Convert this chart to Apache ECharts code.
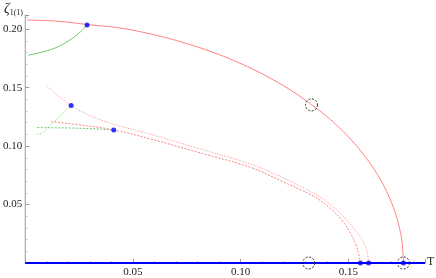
<!DOCTYPE html>
<html><head><meta charset="utf-8">
<script src="https://cdn.jsdelivr.net/npm/echarts@6/dist/echarts.min.js"></script>
<style>html,body{margin:0;padding:0;background:#fff}#c{width:436px;height:278px}</style>
</head><body><div id="c"></div>
<script>
// Main order parameter branch (solid red)
const mainRed = [[0.0009,0.2078],[0.015,0.2068],[0.0287,0.2040],[0.045,0.2007],[0.0583,0.1958],[0.0722,0.1892],[0.088,0.1796],[0.1031,0.1680],[0.115,0.1568],[0.1245,0.1463],[0.1329,0.1354],[0.140,0.1253],[0.146,0.1154],[0.1515,0.1050],[0.156,0.0953],[0.160,0.0855],[0.1635,0.0757],[0.1665,0.0659],[0.169,0.0563],[0.171,0.0472],[0.1728,0.0368],[0.1742,0.0261],[0.1751,0.0155],[0.1756,0]];
// Solid green branch
const greenSolid = [[0.0013,0.1777],[0.0120,0.1826],[0.0198,0.1896],[0.0259,0.1981],[0.0287,0.2036]];
// Dotted red branch A (upper start, ends at outer point)
const redA = [[0.0102,0.1513],[0.0213,0.1346],[0.0352,0.1223],[0.0583,0.1101],[0.0815,0.0974],[0.1046,0.0846],[0.1185,0.0740],[0.1339,0.0595],[0.1417,0.0500],[0.1494,0.0365],[0.1540,0.0262],[0.1570,0.0180],[0.1588,0.0090],[0.1594,0]];
// Dashed red branch B (lower start, ends at inner point)
const redB = [[0.012,0.121],[0.029,0.1172],[0.0411,0.1138],[0.0583,0.1060],[0.0815,0.0940],[0.1046,0.0818],[0.1185,0.0704],[0.1339,0.0570],[0.1417,0.0465],[0.1470,0.0365],[0.1510,0.0255],[0.1535,0.0155],[0.1550,0.0065],[0.1556,0]];
// Green dotted branches
const greenA = [[0.0056,0.1101],[0.0077,0.1106],[0.0144,0.1229],[0.0213,0.1342]];
const greenB = [[0.0056,0.1158],[0.020,0.1155],[0.030,0.1150],[0.0411,0.1138]];
// Zero branch
const zeroLine = [[0,0],[0.1856,0]];
// Marked points
const bluePts = [[0.0287,0.2036],[0.0213,0.1346],[0.0411,0.1138],[0.1556,0],[0.1594,0],[0.1756,0]];
const circlePts = [[0.1316,0],[0.1756,0],[0.1329,0.1352]];
const xTicks = [0.05,0.10,0.15];
const yTicks = [0.05,0.10,0.15,0.20];

const FONT = "'Liberation Serif','DejaVu Serif',serif";
const chart = echarts.init(document.getElementById('c'), null, {renderer:'canvas'});
const fmt = (ticks) => v => { for (const t of ticks) if (Math.abs(v-t) < 1e-6) return t.toFixed(2); return ''; };
chart.setOption({
  animation:false,
  grid:{left:24,right:11,top:15,bottom:14,containLabel:false},
  xAxis:{type:'value',min:0,max:0.1856,interval:0.05,
    axisLine:{show:true,onZero:false,lineStyle:{color:'#999'}},
    axisTick:{show:true,inside:true,length:4,lineStyle:{color:'#999'}},
    minorTick:{show:true,splitNumber:5,length:2,lineStyle:{color:'#bbb'}},
    splitLine:{show:false},
    axisLabel:{formatter:fmt(xTicks),fontFamily:FONT,fontSize:11,color:'#222',margin:4,showMaxLabel:false}},
  yAxis:{type:'value',min:0,max:0.2121,interval:0.05,
    axisLine:{show:true,onZero:false,lineStyle:{color:'#999'}},
    axisTick:{show:true,inside:true,length:4,lineStyle:{color:'#999'}},
    minorTick:{show:true,splitNumber:5,length:2,lineStyle:{color:'#bbb'}},
    splitLine:{show:false},
    axisLabel:{formatter:fmt(yTicks),fontFamily:FONT,fontSize:11,color:'#222',margin:3,showMaxLabel:false}},
  graphic:[
    {type:'text',left:4,top:2,style:{rich:{z:{fontFamily:FONT,fontSize:14,fontStyle:'italic',fill:'#222'},s:{fontFamily:FONT,fontSize:8,fill:'#222',padding:[8,0,0,0]}},text:'{z|ζ}{s|1(1)}'}},
    {type:'text',left:427,top:256,style:{text:'T',fontFamily:FONT,fontSize:12,fill:'#222'}}
  ],
  series:[
    {type:'line',data:zeroLine,symbol:'none',lineStyle:{color:'#0000ff',width:2},z:3},
    {type:'line',data:mainRed,symbol:'none',smooth:0.4,lineStyle:{color:'#ff8080',width:1}},
    {type:'line',data:greenSolid,symbol:'none',smooth:0.4,lineStyle:{color:'#70c870',width:1}},
    {type:'line',data:redA,symbol:'none',smooth:0.4,lineStyle:{color:'#ff8c8c',width:1,type:[1,1.5]}},
    {type:'line',data:redB,symbol:'none',smooth:0.4,lineStyle:{color:'#ff8080',width:1,type:[2,1.5]}},
    {type:'line',data:greenA,symbol:'none',lineStyle:{color:'#78cc78',width:1,type:[1,1.5]}},
    {type:'line',data:greenB,symbol:'none',lineStyle:{color:'#70c870',width:1,type:[2,1.5]}},
    {type:'scatter',data:bluePts,symbol:'circle',symbolSize:5,itemStyle:{color:'#0000ff'},z:5},
    {type:'scatter',data:circlePts,symbol:'circle',symbolSize:12,itemStyle:{color:'rgba(0,0,0,0)',borderColor:'#000',borderWidth:1,borderType:[2,1.5]},z:6}
  ]
});
</script></body></html>
